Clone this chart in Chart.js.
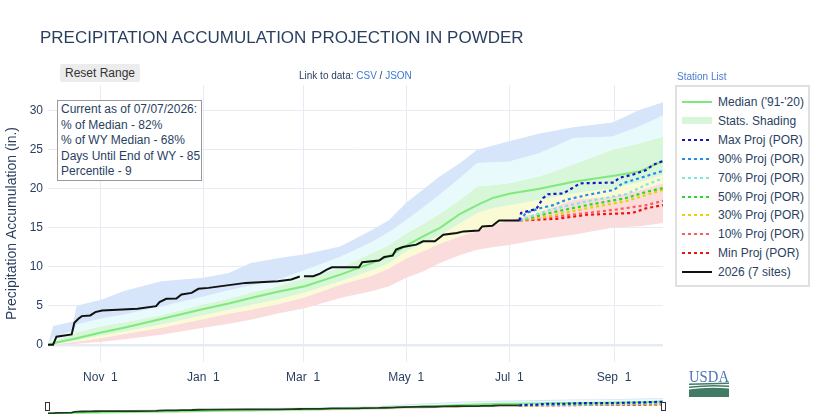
<!DOCTYPE html>
<html><head><meta charset="utf-8">
<script src="https://cdn.jsdelivr.net/npm/chart.js@4"></script>
<style>
body{margin:0;width:816px;height:420px;overflow:hidden;background:#fff;font-family:"Liberation Sans",Arial,sans-serif;position:relative}
.abs{position:absolute}
#title{left:40px;top:27px;font-size:17px;color:#2a3f5f;white-space:nowrap;line-height:22px}
#reset{left:60px;top:64px;width:80px;height:18px;background:#ececec;border-radius:2px;font-size:12px;color:#333;text-align:center;line-height:18px}
#link{left:299px;top:70px;font-size:10px;color:#2a3f5f;white-space:nowrap;line-height:12px}
a{color:#3b78d8;text-decoration:none}
#station{left:677px;top:71px;font-size:10px;color:#4a7bd0;line-height:12px}
#legend{left:675px;top:85px;width:131px;height:198px;border:2px solid #e0e0e0;background:#fff}
.li{position:absolute;left:5px;width:125px;height:19px;font-size:12px;color:#2a3f5f;white-space:nowrap}
.sw{position:absolute;left:0;top:8px;width:30px;height:2px}
.lt{position:absolute;left:36px;top:2px;line-height:14px}
#note{left:57px;top:100px;width:145px;height:81px;border:1px solid #999;background:#fff;font-size:12px;color:#2a3f5f;line-height:15.6px;padding:1px 0 0 3px;box-sizing:border-box;white-space:nowrap}
#main{left:0;top:0}
#mini{left:48px;top:397px}
.handle{position:absolute;top:402px;width:3px;height:7px;border:1px solid #333;background:#fff}
</style></head>
<body>
<canvas id="main" class="abs" width="816" height="420"></canvas>
<canvas id="mini" class="abs" width="615" height="17"></canvas>
<div class="handle" style="left:45px"></div>
<div class="handle" style="left:661px"></div>
<div id="title" class="abs">PRECIPITATION ACCUMULATION PROJECTION IN POWDER</div>
<div id="reset" class="abs">Reset Range</div>
<div id="link" class="abs">Link to data: <a>CSV</a> / <a>JSON</a></div>
<div id="station" class="abs">Station List</div>
<div id="note" class="abs">Current as of 07/07/2026:<br>% of Median - 82%<br>% of WY Median - 68%<br>Days Until End of WY - 85<br>Percentile - 9</div>
<div id="legend" class="abs"></div>
<svg class="abs" style="left:689px;top:369px" width="41" height="29" viewBox="0 0 41 29">
<text x="0" y="12.5" font-family="Liberation Serif, serif" font-size="16" textLength="40" lengthAdjust="spacingAndGlyphs" fill="#4f73b3">USDA</text>
<path d="M0 14.5 L40 13.5 L40 15 L0 16 Z" fill="#3f7c63"/>
<path d="M0 17.5 Q20 15 40 16.5 L40 18 Q20 16.5 0 19 Z" fill="#3f7c63"/>
<path d="M0 20.5 Q20 17.5 40 19.5 L40 28 L0 28 Z" fill="#3f7c63"/>
</svg>
<script>
// ---- data (day index from Oct 1 of water year) ----
const tickDays = [31, 92, 151, 212, 273, 335];
const tickLabels = ['Nov  1', 'Jan  1', 'Mar  1', 'May  1', 'Jul  1', 'Sep  1'];
const yTickValues = [0, 5, 10, 15, 20, 25, 30];

const bandDays = [0, 3, 15, 17, 32, 45, 67, 92, 107, 120, 136, 152, 173, 192, 202, 212, 222, 232, 244, 254, 263, 273, 291, 311, 334, 350, 364];
const maxVals = [0, 2.4, 3.0, 5.0, 5.8, 6.9, 8.15, 8.6, 9.2, 10.5, 11.1, 11.6, 12.6, 14.75, 16.0, 18.2, 19.9, 21.6, 23.3, 25.0, 25.5, 26.1, 27.1, 27.9, 28.5, 30.1, 31.1];
const p90Vals = [0, 1.0, 1.8, 2.6, 3.4, 3.9, 4.9, 6.2, 7.0, 7.6, 8.3, 9.6, 11.3, 13.2, 14.5, 16.0, 17.6, 19.3, 21.4, 23.3, 23.4, 23.5, 24.6, 26.5, 26.7, 28.0, 29.4];
const p70Vals = [0, 0.5, 1.4, 1.6, 2.4, 2.9, 3.8, 5.2, 5.9, 6.7, 7.5, 8.6, 9.86, 11.8, 12.8, 14.3, 15.5, 16.8, 18.6, 20.3, 20.5, 20.7, 21.6, 23.1, 25.0, 25.8, 26.7];
const medianVals = [0, 0.2, 0.75, 0.85, 1.6, 2.2, 3.3, 4.6, 5.3, 6.0, 6.8, 7.5, 9.0, 10.5, 11.4, 12.7, 13.9, 15.0, 16.8, 17.9, 18.8, 19.35, 20.0, 20.9, 21.65, 22.2, 23.56];
const p30Vals = [0, 0.12, 0.5, 0.6, 1.2, 1.7, 2.6, 3.8, 4.5, 5.1, 5.8, 6.7, 8.15, 9.6, 10.5, 12.0, 13.0, 14.0, 15.6, 16.9, 17.5, 17.9, 18.6, 19.4, 20.1, 20.8, 21.8];
const p10Vals = [0, 0.05, 0.35, 0.4, 0.9, 1.4, 2.2, 3.3, 4.0, 4.5, 5.2, 6.1, 7.7, 8.9, 9.8, 11.1, 12.0, 13.0, 13.9, 14.6, 15.3, 16.0, 17.0, 18.6, 19.0, 19.8, 20.7];
const minVals = [0, 0, 0.1, 0.15, 0.4, 0.7, 1.3, 2.2, 2.7, 3.2, 4.0, 4.7, 6.0, 6.9, 7.5, 8.6, 9.4, 10.5, 11.5, 12.2, 12.5, 12.8, 13.5, 14.1, 15.0, 15.2, 15.6];

const wy2026Days = [0, 3, 5, 14, 15.6, 18, 20, 25, 28, 32, 53, 64, 66, 70, 76, 79, 85, 89, 95, 117, 136, 144, 149, 150.5, 151.5, 157, 161, 165, 168, 184, 186, 196, 199, 204, 206, 210, 218, 222, 229, 234, 242, 246, 255, 257, 263, 267, 279];
const wy2026Vals = [0, 0, 1.05, 1.34, 2.83, 3.35, 3.68, 3.77, 4.19, 4.4, 4.62, 4.96, 5.47, 5.9, 5.94, 6.45, 6.66, 7.18, 7.3, 7.94, 8.15, 8.37, 8.75, null, 8.8, 8.8, 9.13, 9.64, 9.94, 9.94, 10.58, 10.8, 11.26, 11.43, 12.2, 12.54, 12.84, 13.26, 13.26, 14.1, 14.33, 14.54, 14.66, 15.17, 15.26, 15.94, 15.94];

const maxProjDays = [279, 280, 289, 293, 296, 305, 315, 335, 338, 346, 354, 358, 364];
const maxProjVals = [15.94, 16.9, 17.4, 18.8, 19.3, 19.4, 20.7, 20.8, 21.4, 21.8, 22.4, 23.05, 23.56];
const p90ProjDays = [279, 283, 291, 299, 307, 319, 335, 340, 350, 364];
const p90ProjVals = [15.94, 16.9, 17.5, 17.9, 18.6, 19.2, 19.86, 20.7, 21.35, 22.3];
const p70ProjDays = [279, 297, 319, 342, 354, 364];
const p70ProjVals = [15.94, 17.3, 18.4, 19.3, 20.5, 21.35];
const p50ProjDays = [279, 297, 319, 342, 354, 364];
const p50ProjVals = [15.94, 16.9, 17.9, 18.8, 19.6, 20.1];
const p30ProjDays = [279, 297, 319, 342, 354, 364];
const p30ProjVals = [15.94, 16.5, 17.5, 18.4, 19.2, 19.86];
const p10ProjDays = [279, 301, 335, 354, 364];
const p10ProjVals = [15.94, 16.45, 17.3, 17.9, 18.45];
const minProjDays = [279, 301, 319, 346, 354, 364];
const minProjVals = [15.94, 16.15, 16.67, 16.9, 17.5, 17.9];

// ---- styling ----
const C = {
  blue: '#d6e5f9', cyan: '#e8fafc', green: '#d8f6d8', yellow: '#fafad5', pink: '#fbdcdc',
  median: '#7eea7e', black: '#111111',
  maxP: '#1717c8', p90P: '#1f8ef1', p70P: '#7fe6dc', p50P: '#22dd22', p30P: '#e8d400', p10P: '#ff5a5a', minP: '#ee1111'
};
const pts = (d, v) => d.map((x, i) => ({x: x, y: v[i]}));

function buildDatasets(s, blackColor) {
  const band = (v, color, fill) => ({data: pts(bandDays, v), borderWidth: 0, pointRadius: 0, fill: fill, backgroundColor: color, borderColor: 'rgba(0,0,0,0)', order: 10, tension: 0});
  const proj = (d, v, color) => ({data: pts(d, v), borderColor: color, borderWidth: 2.2 * s, borderDash: [3 * s, 3 * s], pointRadius: 0, fill: false, order: 1});
  return [
    band(maxVals, C.blue, '+1'),
    band(p90Vals, C.cyan, '+1'),
    band(p70Vals, C.green, '+1'),
    band(p30Vals, C.yellow, '+1'),
    band(p10Vals, C.pink, '+1'),
    band(minVals, 'rgba(0,0,0,0)', false),
    {data: pts(bandDays, medianVals), borderColor: C.median, borderWidth: 2 * s, pointRadius: 0, fill: false, order: 2},
    proj(maxProjDays, maxProjVals, C.maxP),
    proj(p90ProjDays, p90ProjVals, C.p90P),
    proj(p70ProjDays, p70ProjVals, C.p70P),
    proj(p50ProjDays, p50ProjVals, C.p50P),
    proj(p30ProjDays, p30ProjVals, C.p30P),
    proj(p10ProjDays, p10ProjVals, C.p10P),
    proj(minProjDays, minProjVals, C.minP),
    {data: pts(wy2026Days, wy2026Vals), borderColor: blackColor, borderWidth: 2 * s, pointRadius: 0, fill: false, spanGaps: s < 1, order: 0}
  ];
}

const gridColor = '#e6ebf4';
new Chart(document.getElementById('main'), {
  type: 'line',
  data: {datasets: buildDatasets(1, C.black)},
  options: {
    responsive: false, animation: false, events: [],
    layout: {padding: {left: 0, top: 85, right: 153, bottom: 28}},
    plugins: {legend: {display: false}, tooltip: {enabled: false}},
    scales: {
      x: {
        type: 'linear', min: 0, max: 364,
        afterBuildTicks: sc => { sc.ticks = tickDays.map(v => ({value: v})); },
        afterFit: sc => { sc.height = 30; },
        ticks: {padding: 8, color: '#2a3f5f', font: {family: 'Liberation Sans', size: 12}, maxRotation: 0, autoSkip: false,
          callback: v => { const i = tickDays.indexOf(v); return i >= 0 ? tickLabels[i] : ''; }},
        grid: {color: gridColor, drawTicks: false, lineWidth: 1},
        border: {display: false}
      },
      y: {
        type: 'linear', min: -2.2, max: 33.3,
        afterBuildTicks: sc => { sc.ticks = yTickValues.map(v => ({value: v})); },
        afterFit: sc => { sc.width = 48; },
        ticks: {padding: 5, color: '#2a3f5f', font: {family: 'Liberation Sans', size: 12}},
        grid: {color: gridColor, drawTicks: false, lineWidth: c => (c.tick && c.tick.value === 0) ? 2.5 : 1},
        border: {display: false},
        title: {display: true, text: 'Precipitation Accumulation (in.)', color: '#2a3f5f', font: {family: 'Liberation Sans', size: 14}, padding: {top: 4, bottom: 4}}
      }
    }
  }
});

new Chart(document.getElementById('mini'), {
  type: 'line',
  data: {datasets: buildDatasets(0.9, '#1a3a1a')},
  options: {
    responsive: false, animation: false, events: [],
    layout: {padding: 0},
    plugins: {legend: {display: false}, tooltip: {enabled: false}},
    scales: {
      x: {type: 'linear', min: 0, max: 364, display: false},
      y: {type: 'linear', min: -1.4, max: 33, display: false}
    }
  }
});

// ---- legend (HTML) ----
const legendItems = [
  {label: "Median ('91-'20)", kind: 'solid', color: C.median},
  {label: 'Stats. Shading', kind: 'block', color: C.green},
  {label: 'Max Proj (POR)', kind: 'dot', color: C.maxP},
  {label: '90% Proj (POR)', kind: 'dot', color: C.p90P},
  {label: '70% Proj (POR)', kind: 'dot', color: C.p70P},
  {label: '50% Proj (POR)', kind: 'dot', color: C.p50P},
  {label: '30% Proj (POR)', kind: 'dot', color: C.p30P},
  {label: '10% Proj (POR)', kind: 'dot', color: C.p10P},
  {label: 'Min Proj (POR)', kind: 'dot', color: C.minP},
  {label: '2026 (7 sites)', kind: 'solid', color: C.black}
];
const lg = document.getElementById('legend');
legendItems.forEach((it, i) => {
  const row = document.createElement('div');
  row.className = 'li';
  row.style.top = (6 + i * 18.9) + 'px';
  const sw = document.createElement('div');
  sw.className = 'sw';
  if (it.kind === 'solid') sw.style.background = it.color;
  else if (it.kind === 'block') { sw.style.background = it.color; sw.style.height = '7px'; sw.style.top = '5px'; }
  else sw.style.background = 'repeating-linear-gradient(90deg,' + it.color + ' 0 3px, transparent 3px 6px)';
  const t = document.createElement('div');
  t.className = 'lt';
  t.textContent = it.label;
  row.appendChild(sw); row.appendChild(t);
  lg.appendChild(row);
});
</script>
</body></html>
